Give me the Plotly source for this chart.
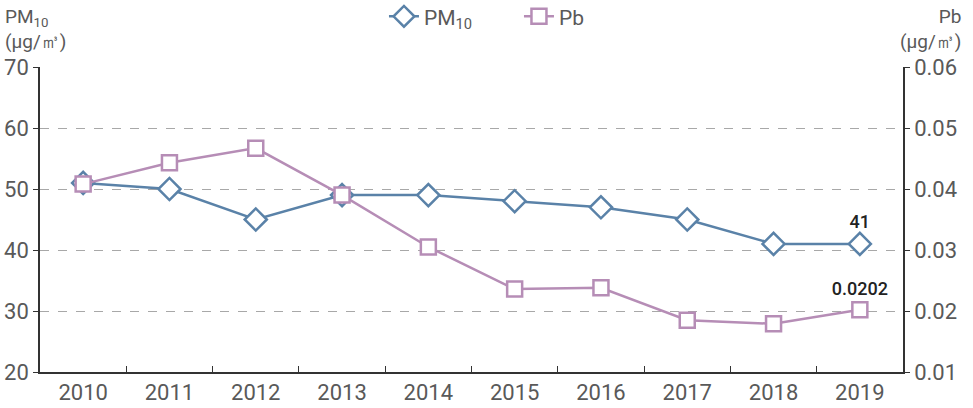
import plotly.graph_objects as go

years = ["2010", "2011", "2012", "2013", "2014", "2015", "2016", "2017", "2018", "2019"]
pm10 = [51, 50, 45, 49, 49, 48, 47, 45, 41, 41]
pb = [0.0408, 0.0443, 0.0467, 0.0390, 0.0305, 0.0236, 0.0238, 0.0185, 0.0179, 0.0202]
pm10_labels = [""] * 9 + ["41"]
pb_labels = [""] * 9 + ["0.0202"]

blue = "#5A82A8"
mauve = "#B68DB6"
tickc = "#595959"
narrow = "Liberation Sans Narrow, Roboto, sans-serif"

fig = go.Figure()
fig.add_trace(go.Scatter(
    x=years, y=pm10, name="PM<sub>10</sub>", mode="lines+markers+text",
    text=pm10_labels, textposition="top center",
    textfont=dict(size=18, color="#222", family="Roboto", weight=500),
    line=dict(color=blue, width=2.5),
    marker=dict(symbol="diamond", size=17, color="white", line=dict(color=blue, width=2.5)),
    cliponaxis=False,
))
fig.add_trace(go.Scatter(
    x=years, y=pb, name="Pb", yaxis="y2", mode="lines+markers+text",
    text=pb_labels, textposition="top center",
    textfont=dict(size=18, color="#222", family="Roboto", weight=500),
    line=dict(color=mauve, width=2.5),
    marker=dict(symbol="square", size=15, color="white", line=dict(color=mauve, width=2.5)),
    cliponaxis=False,
))

fig.update_layout(
    width=973, height=408,
    margin=dict(l=40, r=70, t=67, b=36, autoexpand=False),
    plot_bgcolor="white", paper_bgcolor="white",
    font=dict(family=narrow, color=tickc, size=20),
    showlegend=True,
    legend=dict(orientation="h", x=0.555, xanchor="center", y=1.165, yanchor="middle",
                font=dict(size=21, color=tickc, family=narrow), itemwidth=30,
                entrywidth=90, entrywidthmode="pixels",
                traceorder="normal", bgcolor="rgba(0,0,0,0)"),
    xaxis=dict(
        type="category", range=[-0.5, 9.5], showgrid=False,
        showline=True, linecolor="#333", linewidth=1.5,
        ticks="inside", tickson="boundaries", ticklen=6, tickcolor="#333",
        tickfont=dict(size=22, color=tickc, family=narrow),
    ),
    yaxis=dict(
        range=[20, 70], dtick=10, showgrid=True, gridcolor="#a8a8a8", griddash="dash", gridwidth=1,
        showline=True, linecolor="#333", linewidth=1.5, zeroline=False,
        ticks="outside", ticklen=5, tickcolor="#333",
        tickfont=dict(size=22, color=tickc, family=narrow),
    ),
    yaxis2=dict(
        range=[0.01, 0.06], dtick=0.01, overlaying="y", side="right", showgrid=False,
        showline=True, linecolor="#333", linewidth=1.5, zeroline=False,
        ticks="outside", ticklen=5, tickcolor="#333", tickformat=".2f",
        tickfont=dict(size=22, color=tickc, family=narrow),
    ),
)

fig.add_annotation(text="PM<sub>10</sub><br>(μg/㎥)", xref="paper", yref="paper",
                   x=-0.043, y=1.0, xanchor="left", yanchor="bottom", align="left",
                   showarrow=False, font=dict(size=19, color=tickc, family=narrow), yshift=12)
fig.add_annotation(text="Pb<br>(μg/㎥)", xref="paper", yref="paper",
                   x=1.07, y=1.0, xanchor="right", yanchor="bottom", align="right",
                   showarrow=False, font=dict(size=19, color=tickc, family=narrow), yshift=12)

fig.write_html("out.html", config={"displayModeBar": False},
               post_script="document.body.style.margin='0';document.body.style.overflow='hidden';")
